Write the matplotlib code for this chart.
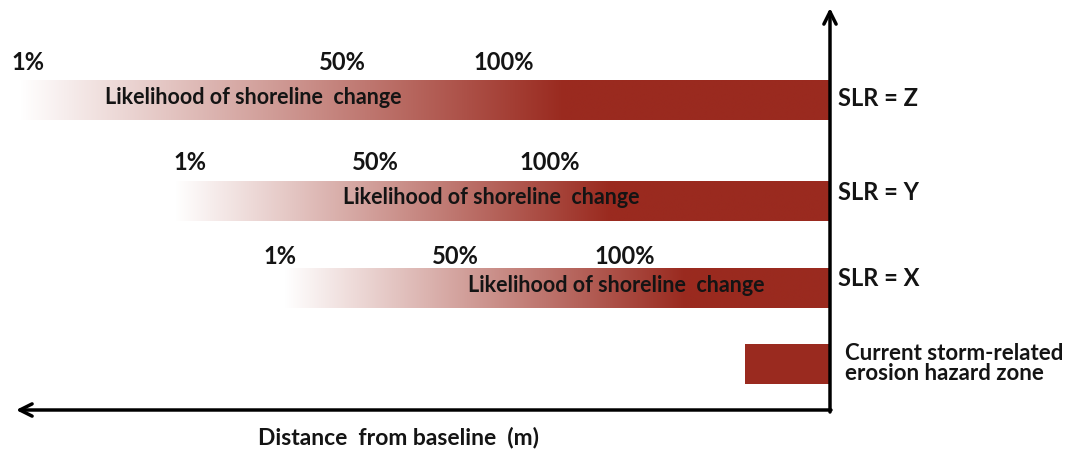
import numpy as np
import matplotlib
matplotlib.use('Agg')
import matplotlib.pyplot as plt
from matplotlib.colors import to_rgb

plt.rcParams['font.family'] = ['Lato', 'DejaVu Sans']

# scenarios, top to bottom (distance from baseline, arbitrary units)
scenarios = ['SLR = Z', 'SLR = Y', 'SLR = X']
row_y = [100, 201, 288]
pct_y = [63, 162, 256]
extent_far = [810, 655, 545]       # where the 1% fade starts
pos_1 = [802, 640, 550]
pos_50 = [488, 455, 375]
pos_100 = [326, 280, 205]
text_start = [725, 487, 362]
current_zone = 85
current_y = 364
current_lines = ['Current storm-related', 'erosion hazard zone']

bar_h = 40
red = np.array(to_rgb('#9a2a1f'))
txt = '#141414'

fig = plt.figure(figsize=(10.87, 4.5), dpi=100)
ax = fig.add_axes([0, 0, 1, 1])
ax.set_xlim(830, 830 - 1087)
ax.set_ylim(450, 0)
ax.axis('off')

for i, name in enumerate(scenarios):
    far, p100, y = extent_far[i], pos_100[i], row_y[i]
    full = p100 - 60
    d = np.linspace(far, 0, 600)
    t = np.clip((far - d) / (far - full), 0, 1)
    rgb = (1 - t)[:, None] * np.ones(3) + t[:, None] * red
    ax.imshow(rgb[None, :, :], extent=(far, 0, y + bar_h / 2, y - bar_h / 2),
              aspect='auto', interpolation='bilinear', zorder=1)
    for pos, lab in zip([pos_1[i], pos_50[i], pos_100[i]], ['1%', '50%', '100%']):
        ax.text(pos, pct_y[i], lab, ha='center', va='center', fontsize=17,
                fontweight='bold', color=txt)
    ax.text(text_start[i], y - 3, 'Likelihood of shoreline  change', ha='left',
            va='center', fontsize=15.5, fontweight='bold', color=txt, zorder=3)
    ax.text(-8, y - 2 - (7 if i > 0 else 0), name, ha='left', va='center',
            fontsize=17, fontweight='bold', color=txt)

ax.barh(current_y, current_zone, left=0, height=bar_h, color=red, zorder=1)
for k, line in enumerate(current_lines):
    ax.text(-15, current_y - 11 + 20 * k, line, ha='left', va='center',
            fontsize=16, fontweight='bold', color=txt)

# axes arrows
ax.annotate('', xy=(0, 8), xytext=(0, 412),
            arrowprops=dict(arrowstyle='->', lw=2.5, color='black',
                            mutation_scale=22, shrinkA=0, shrinkB=0), zorder=4)
ax.annotate('', xy=(814, 410), xytext=(-1, 410),
            arrowprops=dict(arrowstyle='->', lw=2.5, color='black',
                            mutation_scale=22, shrinkA=0, shrinkB=0), zorder=4)
ax.text(431, 437, 'Distance  from baseline  (m)', ha='center', va='center',
        fontsize=16.5, fontweight='bold', color=txt)

fig.savefig('out.png', dpi=100, facecolor='white')
